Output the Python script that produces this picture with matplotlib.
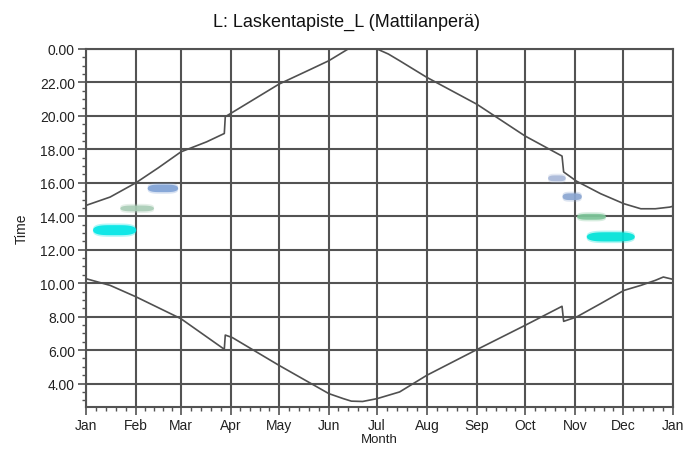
import matplotlib
matplotlib.use("Agg")
import matplotlib.pyplot as plt
import numpy as np
from matplotlib.ticker import FixedLocator, FuncFormatter, MultipleLocator

plt.rcParams['font.family'] = ['Liberation Sans', 'DejaVu Sans']

# 月份刻度（年内天数）
month_days = [0, 31, 59, 90, 120, 151, 181, 212, 243, 273, 304, 334, 365]
month_labels = ['Jan', 'Feb', 'Mar', 'Apr', 'May', 'Jun', 'Jul',
                'Aug', 'Sep', 'Oct', 'Nov', 'Dec', 'Jan']

# 日落曲线（上）
sunset_day = [0, 15, 31, 45, 59, 75, 86, 86.6, 90, 120, 140, 151, 163, 181, 188,
              195, 212, 243, 273, 296, 297, 305, 320, 334.5, 345, 354, 363, 365]
sunset_hour = [14.65, 15.15, 16.0, 16.9, 17.85, 18.45, 18.95, 19.95, 20.15, 21.9,
               22.8, 23.3, 24.0, 24.0, 23.7, 23.3, 22.3, 20.7, 18.8, 17.6, 16.65,
               16.1, 15.35, 14.75, 14.45, 14.45, 14.55, 14.6]

# 日出曲线（下）
sunrise_day = [0, 15, 31, 59, 86, 86.6, 91, 120, 151, 160, 165, 172, 181, 195,
               212, 243, 273, 296, 297, 305, 320, 334.5, 345, 354, 359, 365]
sunrise_hour = [10.27, 9.87, 9.19, 7.88, 6.05, 6.9, 6.75, 5.09, 3.4, 3.1, 2.95,
                2.93, 3.1, 3.5, 4.5, 6.03, 7.48, 8.62, 7.72, 7.98, 8.78, 9.57,
                9.87, 10.17, 10.37, 10.23]

# 阴影闪烁区段：起始日、结束日、时刻中心、厚度(小时)、颜色
flicker_start = [4, 21, 38, 287, 296, 305, 311]
flicker_end = [31, 42, 57, 298, 308, 323, 341]
flicker_hour = [13.2, 14.5, 15.7, 16.3, 15.2, 14.0, 12.8]
flicker_height = [0.6, 0.35, 0.45, 0.35, 0.4, 0.35, 0.55]
flicker_color = ['#00e6e6', '#a9cdb6', '#7fa2d6', '#a9b9d9', '#8ba6d1',
                 '#7cc498', '#00e2d8']

fig = plt.figure(figsize=(7, 4.52), dpi=100)
ax = fig.add_axes([86 / 700, 1 - 408 / 452, 587 / 700, 358 / 452])

grid_col = '#535353'

# 闪烁区段（两端收窄的色块）
for s, e, h, th, c in zip(flicker_start, flicker_end, flicker_hour,
                          flicker_height, flicker_color):
    xs = np.linspace(s, e, 60)
    u = (xs - s) / (e - s) * 2 - 1
    prof = np.sqrt(np.clip(1 - u ** 4, 0, 1))
    ax.fill_between(xs, h - th / 2 * prof - 0.1, h + th / 2 * prof + 0.1,
                    color=c, alpha=0.3, lw=0, zorder=2)
    ax.fill_between(xs, h - th / 2 * prof, h + th / 2 * prof,
                    color=c, alpha=0.9, lw=0, zorder=2)

ax.plot(sunset_day, sunset_hour, color='#505050', lw=1.2, zorder=3)
ax.plot(sunrise_day, sunrise_hour, color='#505050', lw=1.2, zorder=3)

ax.set_xlim(0, 365)
ax.set_ylim(2.6, 24)

ax.xaxis.set_major_locator(FixedLocator(month_days))
ax.set_xticklabels(month_labels)
minor_x = [d + (month_days[i + 1] - d) * k / 5
           for i, d in enumerate(month_days[:-1]) for k in range(1, 5)]
ax.xaxis.set_minor_locator(FixedLocator(minor_x))

ax.yaxis.set_major_locator(FixedLocator(np.arange(4, 25, 2)))
ax.yaxis.set_minor_locator(MultipleLocator(0.5))
ax.yaxis.set_major_formatter(FuncFormatter(lambda v, p: f"{v % 24:.2f}"))

ax.grid(True, which='major', color=grid_col, lw=1.5, zorder=1)
ax.set_axisbelow(True)

for side in ['top', 'right', 'left', 'bottom']:
    ax.spines[side].set_color(grid_col)
    ax.spines[side].set_linewidth(1.5)

ax.tick_params(which='major', length=6, width=1.2, color=grid_col,
               labelsize=10, labelcolor='#222222', pad=2)
ax.tick_params(which='minor', length=3, width=1.0, color=grid_col)

ax.set_xlabel('Month', fontsize=9.5, labelpad=1, color='#222222')
ax.set_ylabel('Time', fontsize=10, labelpad=8, color='#222222')

fig.text(0.495, 1 - 22 / 452, 'L: Laskentapiste_L (Mattilanperä)',
         ha='center', va='center', fontsize=13, color='#111111')

fig.savefig('out.png', dpi=100, facecolor='white')
